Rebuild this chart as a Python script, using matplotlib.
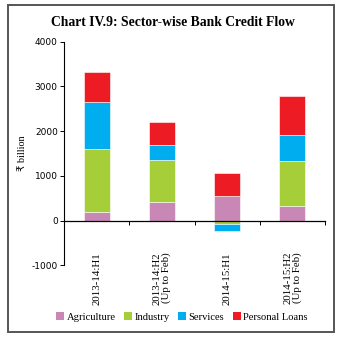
import numpy as np
import matplotlib
matplotlib.use("Agg")
import matplotlib.pyplot as plt
from matplotlib.patches import Rectangle

periods = ["2013-14:H1", "2013-14:H2\n(Up to Feb)", "2014-15:H1", "2014-15:H2\n(Up to Feb)"]
sectors = ["Agriculture", "Industry", "Services", "Personal Loans"]
agriculture = [190, 410, 545, 330]
industry = [1420, 935, -85, 1000]
services = [1050, 335, -140, 575]
personal_loans = [660, 515, 530, 880]
colors = ["#C987B5", "#A6CE39", "#00AEEF", "#ED1C24"]
y_ticks = [-1000, 0, 1000, 2000, 3000, 4000]

serif = ["Liberation Serif", "DejaVu Serif"]

fig = plt.figure(figsize=(3.43, 3.43), dpi=100)
ax = fig.add_axes([64 / 343, 1 - 265.3 / 343, (325 - 64) / 343, (265.3 - 41.7) / 343])

x = np.arange(len(periods))
pos_base = np.zeros(len(periods))
neg_base = np.zeros(len(periods))
for name, vals, c in zip(sectors, [agriculture, industry, services, personal_loans], colors):
    vals = np.array(vals, dtype=float)
    base = np.where(vals >= 0, pos_base, neg_base)
    ax.bar(x, vals, width=0.4, bottom=base, color=c, edgecolor="white",
           linewidth=0.4, label=name, zorder=2)
    pos_base += np.where(vals >= 0, vals, 0)
    neg_base += np.where(vals < 0, vals, 0)

ax.set_xlim(-0.5, 3.5)
ax.set_ylim(-1000, 4000)
ax.set_yticks(y_ticks)
ax.set_yticklabels([str(t) for t in y_ticks], fontsize=6.5, family="DejaVu Sans")
ax.tick_params(axis="y", length=3, width=0.7, pad=1.5)

ax.spines["top"].set_visible(False)
ax.spines["right"].set_visible(False)
ax.spines["bottom"].set_position(("data", 0))
ax.spines["left"].set_linewidth(0.8)
ax.spines["bottom"].set_linewidth(0.9)
ax.set_xticks(x + 0.5)
ax.set_xticklabels([])
ax.tick_params(axis="x", length=3, width=0.7, direction="out")

for xi, lab in zip(x, periods):
    ax.text(xi, -700, lab, rotation=90, ha="center", va="top", multialignment="right",
            fontsize=7.8, family=serif, linespacing=1.0)

ax.set_ylabel("₹ billion", fontsize=7.3, family=["Liberation Serif", "DejaVu Sans"], labelpad=3)

fig.text(0.503, 1 - 22 / 343, "Chart IV.9: Sector-wise Bank Credit Flow", ha="center", va="center",
         fontsize=9.8, fontweight="bold", family=serif)

leg = fig.legend(loc="center", bbox_to_anchor=(0.53, 1 - 317 / 343), ncol=4, frameon=False,
                 prop={"family": serif, "size": 7.6}, handlelength=0.8, handleheight=0.8,
                 handletextpad=0.2, columnspacing=0.8, borderaxespad=0)
for h in leg.legend_handles:
    h.set_edgecolor("none")

fig.patches.append(Rectangle((8 / 343, 1 - 332 / 343), (334 - 8) / 343, (332 - 5) / 343,
                             transform=fig.transFigure, fill=False, edgecolor="#555555",
                             linewidth=1.4))

fig.savefig("out.png", dpi=100)
